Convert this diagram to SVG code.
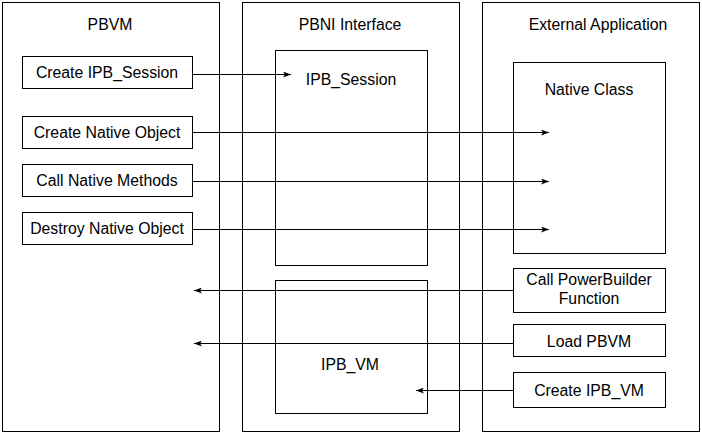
<svg xmlns="http://www.w3.org/2000/svg" width="702" height="434" viewBox="0 0 702 434">
<style>
rect{fill:#fff;stroke:#000;stroke-width:1}
text{font-family:"Liberation Sans",Arial,sans-serif;font-size:15.8px;fill:#000;text-anchor:middle}
line{stroke:#000;stroke-width:1}
</style>
<defs><marker id="a" markerWidth="8" markerHeight="6" refX="8" refY="3" orient="auto" markerUnits="userSpaceOnUse"><path d="M0,0L8,3L0,6L2,3z" fill="#000"/></marker></defs>
<rect width="702" height="434" style="stroke:none"/>
<g id="pbvm"><rect x="2.5" y="2.5" width="217" height="429"/><text x="110" y="30">PBVM</text></g>
<g id="pbni"><rect x="242.5" y="2.5" width="217" height="429"/><text x="350" y="30">PBNI Interface</text></g>
<g id="ext"><rect x="482.5" y="2.5" width="217" height="429"/><text x="598" y="30">External Application</text></g>
<g id="n1"><rect x="22.5" y="56.5" width="170" height="32"/><text x="107" y="78">Create IPB_Session</text></g>
<g id="n2"><rect x="22.5" y="116.5" width="170" height="32"/><text x="107" y="138">Create Native Object</text></g>
<g id="n3"><rect x="22.5" y="164.5" width="170" height="32"/><text x="107" y="186">Call Native Methods</text></g>
<g id="n4"><rect x="22.5" y="212.5" width="170" height="32"/><text x="107" y="234">Destroy Native Object</text></g>
<g id="sess"><rect x="275.5" y="50.5" width="152" height="215"/><text x="351" y="85">IPB_Session</text></g>
<g id="vm"><rect x="275.5" y="280.5" width="152" height="133"/><text x="350" y="370">IPB_VM</text></g>
<g id="nc"><rect x="513.5" y="62.5" width="152" height="191"/><text x="589" y="95">Native Class</text></g>
<g id="cpf"><rect x="513.5" y="268.5" width="152" height="44"/><text x="589" y="285">Call PowerBuilder</text><text x="589" y="304">Function</text></g>
<g id="lp"><rect x="513.5" y="324.5" width="152" height="32"/><text x="589" y="347">Load PBVM</text></g>
<g id="cvm"><rect x="513.5" y="372.5" width="152" height="35"/><text x="589" y="396">Create IPB_VM</text></g>
<g id="connectors" marker-end="url(#a)">
<line x1="192" y1="74.5" x2="291" y2="74.5"/>
<line x1="192" y1="132.5" x2="549" y2="132.5"/>
<line x1="192" y1="181.5" x2="549" y2="181.5"/>
<line x1="192" y1="229.5" x2="549" y2="229.5"/>
<line x1="513" y1="290.5" x2="194" y2="290.5"/>
<line x1="513" y1="343.5" x2="194" y2="343.5"/>
<line x1="513" y1="390.5" x2="416" y2="390.5"/>
</g>
</svg>
